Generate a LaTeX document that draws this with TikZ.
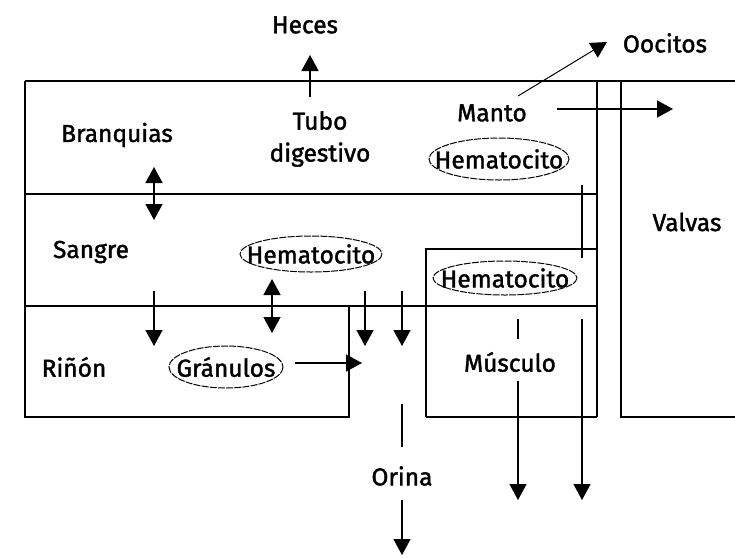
\documentclass[tikz,border=0pt]{standalone}
\usepackage{fontspec}
\setmainfont{Fira Sans}[FakeBold=1.6]
\usetikzlibrary{arrows.meta}
\begin{document}
\begin{tikzpicture}[x=1pt,y=-1pt,
  wall/.style={line width=1.4pt},
  flow/.style={line width=1.4pt,-{Triangle[width=17pt,length=16pt]}},
  twoway/.style={line width=1.4pt,{Triangle[width=17pt,length=16pt]}-{Triangle[width=17pt,length=16pt]}},
  lbl/.style={inner sep=0pt,font=\fontsize{24.5}{32}\selectfont},
  ell/.style={line width=1pt,dash pattern=on 7pt off 1.2pt}]
\useasboundingbox (0,0) rectangle (735,557);

% compartments
\draw[wall] (25,81) -- (735,81);
\draw[wall] (25,81) -- (25,417) -- (349,417) -- (349,306);
\draw[wall] (25,194) -- (597,194);
\draw[wall] (25,306) -- (597,306);
\draw[wall] (426,417) -- (426,249) -- (597,249);
\draw[wall] (426,417) -- (597,417);
\draw[wall] (597,81) -- (597,417);
\draw[wall] (621,81) -- (621,417) -- (735,417);
\draw[wall] (582,185) -- (582,258);

% labels
\node[lbl] (heces) at (305,25) {Heces};
\node[lbl] (oocitos) at (665,43) {Oocitos};
\node[lbl] (branq) at (117,135) {Branquias};
\node[lbl,align=center] (tubo) at (320,139) {Tubo\\digestivo};
\node[lbl] (manto) at (492,113) {Manto};
\node[lbl] (hem1) at (499,159) {Hematocito};
\node[lbl] (sangre) at (91,252) {Sangre};
\node[lbl] (hem2) at (311,254) {Hematocito};
\node[lbl] (hem3) at (505,278) {Hematocito};
\node[lbl] (valvas) at (687,222) {Valvas};
\node[lbl] (rinon) at (74,367) {Riñón};
\node[lbl] (gran) at (226,367) {Gránulos};
\node[lbl] (musc) at (510,362) {Músculo};
\node[lbl] (orina) at (402,476) {Orina};

% hemocyte and granule outlines
\draw[ell] (hem1.center) ellipse [x radius=70, y radius=21];
\draw[ell] (hem2.center) ellipse [x radius=71, y radius=18];
\draw[ell] (hem3.center) ellipse [x radius=72, y radius=17];
\draw[ell] (gran.center) ellipse [x radius=57, y radius=21];

% arrow end points
\coordinate (hA) at (310,97);   \coordinate (hB) at (310,55);
\coordinate (mA) at (557,109);  \coordinate (mB) at (673,109);
\coordinate (oA) at (518,96);   \coordinate (oB) at (607,42);
\coordinate (bA) at (154,167);  \coordinate (bB) at (154,220);
\coordinate (sA) at (154,291);  \coordinate (sB) at (154,346);
\coordinate (gA) at (272,279);  \coordinate (gB) at (272,333);
\coordinate (kA) at (365,291);  \coordinate (kB) at (365,346);
\coordinate (uA) at (402,291);  \coordinate (uB) at (402,346);
\coordinate (rA) at (295,363);  \coordinate (rB) at (362,363);
\coordinate (m1) at (518,319);  \coordinate (m2) at (518,339);
\coordinate (m3) at (518,381);  \coordinate (m4) at (518,500);
\coordinate (vA) at (582,319);  \coordinate (vB) at (582,500);
\coordinate (o1) at (402,404);  \coordinate (o2) at (402,447);
\coordinate (o3) at (402,500);  \coordinate (o4) at (402,555);

% flows
\draw[flow] (hA) -- (hB);
\draw[flow] (mA) -- (mB);
\draw[flow,line width=1pt] (oA) -- (oB);
\draw[twoway] (bA) -- (bB);
\draw[flow] (sA) -- (sB);
\draw[twoway] (gA) -- (gB);
\draw[flow] (kA) -- (kB);
\draw[flow] (uA) -- (uB);
\draw[flow] (rA) -- (rB);
\draw[wall] (m1) -- (m2);
\draw[flow] (m3) -- (m4);
\draw[flow] (vA) -- (vB);
\draw[wall] (o1) -- (o2);
\draw[flow] (o3) -- (o4);
\end{tikzpicture}
\end{document}
